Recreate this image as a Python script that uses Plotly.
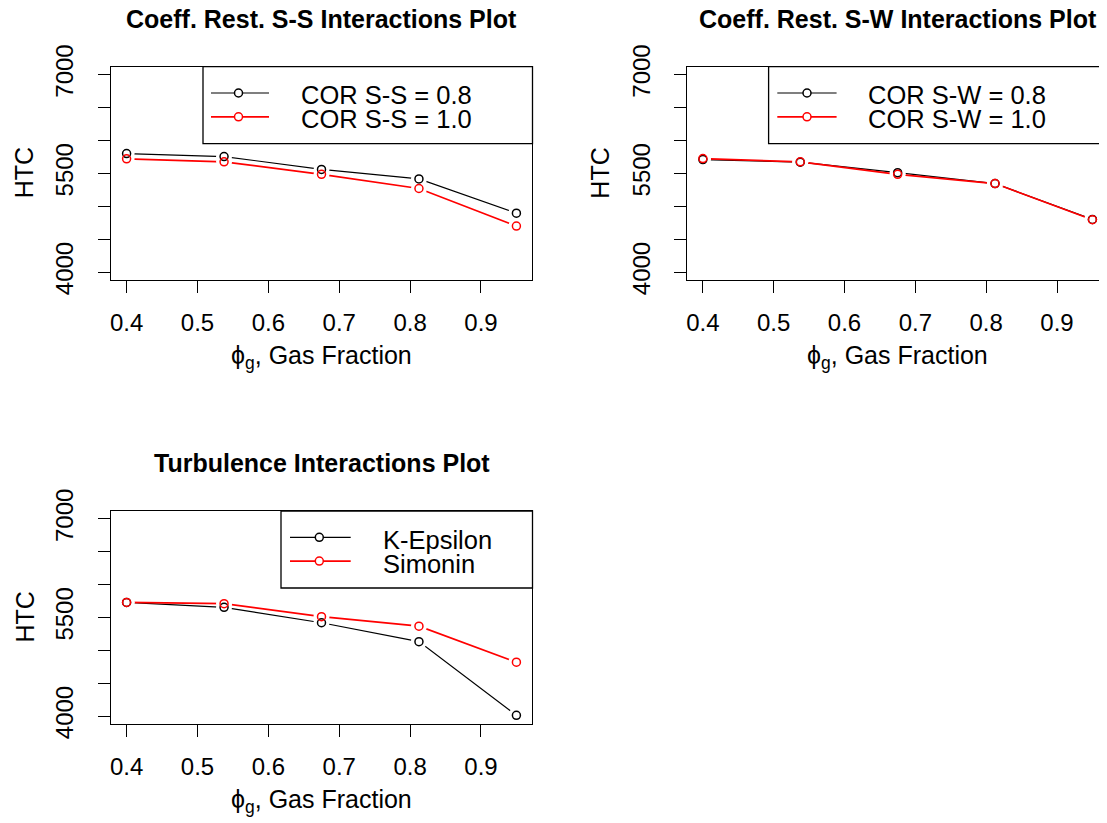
import plotly.graph_objects as go

# ---------------- data ----------------
x_gas = [0.4, 0.5375, 0.675, 0.8125, 0.95]

ss_08 = [5800, 5755, 5560, 5415, 4895]
ss_10 = [5720, 5675, 5485, 5270, 4700]

sw_08 = [5710, 5670, 5510, 5345, 4800]
sw_10 = [5725, 5675, 5485, 5345, 4795]

ke_vals = [5730, 5655, 5420, 5133, 4012]
sim_vals = [5730, 5710, 5513, 5368, 4820]

x_tickvals = [0.4, 0.5, 0.6, 0.7, 0.8, 0.9]
x_ticktext = ["0.4", "0.5", "0.6", "0.7", "0.8", "0.9"]
y_tickvals = [4000, 4500, 5000, 5500, 6000, 6500, 7000]
y_ticktext = ["4000", " ", " ", "5500", " ", " ", "7000"]

titles = ["Coeff. Rest. S-S Interactions Plot",
          "Coeff. Rest. S-W Interactions Plot",
          "Turbulence Interactions Plot"]
legend_labels = [["COR S-S = 0.8", "COR S-S = 1.0"],
                 ["COR S-W = 0.8", "COR S-W = 1.0"],
                 ["K-Epsilon", "Simonin"]]
series = [(ss_08, ss_10), (sw_08, sw_10), (ke_vals, sim_vals)]
x_title = "\u03d5<sub>g</sub>, Gas Fraction"
y_title = "HTC"

# ---------------- layout geometry (screen pixels) ----------------
W, H = 1107, 823
OFF = 8  # page body margin
FONT = "Liberation Sans, Arial, Helvetica, sans-serif"
BLACK = "#000000"
RED = "#ff0000"

# panel boxes: (left, right, top, bottom) in screen pixels
panels = [
    (111, 532, 66.7, 280),
    (687.3, 1108, 66.7, 280),
    (111, 532, 511, 724),
]
xrange_ = [0.378, 0.972]
yrange = [3880, 7120]

# legend geometry: (box left, line x0, circle x, line x1, text x)
legend_geo = [
    (203, 211, 238.5, 269, 299),
    (768.6, 777.3, 807, 836.6, 866),
    (281, 290, 319.3, 350.7, 380.7),
]


def px(x):
    return (x - OFF) / W


def py(y):
    return 1 - (y - OFF) / H


fig = go.Figure()
annotations = []
shapes = []

for i, ((left, right, top, bottom), (s1, s2)) in enumerate(zip(panels, series)):
    ax = "" if i == 0 else str(i + 1)
    xa, ya = "x" + ax, "y" + ax
    # lines
    for vals, col, lw in [(s1, BLACK, 1.2), (s2, RED, 1.7)]:
        fig.add_trace(go.Scatter(x=x_gas, y=vals, mode="lines",
                                 line=dict(color=col, width=lw),
                                 xaxis=xa, yaxis=ya, showlegend=False,
                                 hoverinfo="skip"))
    # white gaps around points (type="b" look)
    for vals in (s1, s2):
        fig.add_trace(go.Scatter(x=x_gas, y=vals, mode="markers",
                                 marker=dict(color="white", size=16, line=dict(width=0)),
                                 xaxis=xa, yaxis=ya, showlegend=False,
                                 hoverinfo="skip"))
    # open circles
    for vals, col in [(s1, BLACK), (s2, RED)]:
        fig.add_trace(go.Scatter(x=x_gas, y=vals, mode="markers",
                                 marker=dict(symbol="circle-open", color=col, size=8,
                                             line=dict(color=col, width=1.5)),
                                 xaxis=xa, yaxis=ya, showlegend=False))

    axis_common = dict(showline=True, mirror=True, linecolor=BLACK, linewidth=1.3,
                       ticks="outside", ticklen=12, tickwidth=1.1, tickcolor=BLACK,
                       showgrid=False, zeroline=False, automargin=False,
                       tickfont=dict(family=FONT, size=24, color=BLACK))
    fig.update_layout(**{
        ("xaxis" + ax): dict(domain=[px(left), min(px(right), 1.0)], anchor=ya,
                             range=xrange_, tickmode="array",
                             tickvals=x_tickvals, ticktext=x_ticktext,
                             ticklabelstandoff=9, **axis_common),
        ("yaxis" + ax): dict(domain=[py(bottom), py(top)], anchor=xa,
                             range=yrange, tickmode="array",
                             tickvals=y_tickvals, ticktext=y_ticktext,
                             tickangle=-90, ticklabelstandoff=15, **axis_common),
    })

    cx = (left + right) / 2
    cy = (top + bottom) / 2
    # main title
    annotations.append(dict(text="<b>%s</b>" % titles[i], x=px(cx), y=py(top - 48),
                            xref="paper", yref="paper", xanchor="center", yanchor="middle",
                            showarrow=False, font=dict(family=FONT, size=25, color=BLACK)))
    # x title
    annotations.append(dict(text=x_title, x=px(cx), y=py(bottom + 77),
                            xref="paper", yref="paper", xanchor="center", yanchor="middle",
                            showarrow=False, font=dict(family=FONT, size=25, color=BLACK)))
    # y title
    annotations.append(dict(text=y_title, x=px(left - 87), y=py(cy), textangle=-90,
                            xref="paper", yref="paper", xanchor="center", yanchor="middle",
                            showarrow=False, font=dict(family=FONT, size=25, color=BLACK)))

    # legend box
    lb_left, l_x0, c_x, l_x1, t_x = legend_geo[i]
    lb_right = right + 0.5
    shapes.append(dict(type="rect", xref="paper", yref="paper",
                       x0=px(lb_left), x1=px(lb_right), y0=py(top), y1=py(top + 77),
                       line=dict(color=BLACK, width=1.3), fillcolor="rgba(0,0,0,0)"))
    for r, (lab, col, lw) in enumerate([(legend_labels[i][0], BLACK, 1.2),
                                         (legend_labels[i][1], RED, 1.7)]):
        ly = top + 26.3 + r * 23.8
        shapes.append(dict(type="line", xref="paper", yref="paper",
                           x0=px(l_x0), x1=px(l_x1), y0=py(ly), y1=py(ly),
                           line=dict(color=col, width=lw)))
        shapes.append(dict(type="circle", xref="paper", yref="paper",
                           x0=px(c_x - 4), x1=px(c_x + 4), y0=py(ly - 4), y1=py(ly + 4),
                           line=dict(color=col, width=1.5), fillcolor="white"))
        annotations.append(dict(text=lab, x=px(t_x), y=py(ly + 2.5),
                                xref="paper", yref="paper", xanchor="left", yanchor="middle",
                                showarrow=False,
                                font=dict(family=FONT, size=25.5, color=BLACK)))

fig.update_layout(width=W, height=H,
                  margin=dict(l=0, r=0, t=0, b=0, pad=0, autoexpand=False),
                  paper_bgcolor="white", plot_bgcolor="white",
                  showlegend=False, annotations=annotations, shapes=shapes,
                  font=dict(family=FONT, color=BLACK))

fig.write_html("out.html")
